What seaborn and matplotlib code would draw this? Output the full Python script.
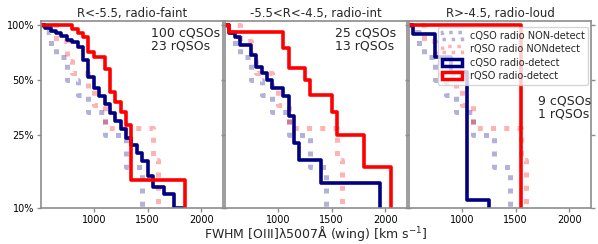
import numpy as np
import matplotlib
matplotlib.use("Agg")
import matplotlib.pyplot as plt
from matplotlib.patches import Patch
from matplotlib.ticker import NullLocator
import seaborn as sns

# FWHM (km/s) bin edges where each reverse-cumulative curve steps down,
# and how many objects leave the sample at that edge
bin_start = 500

# radio non-detections (same comparison sample in every panel)
cq_nondet_fwhm = [550, 600, 650, 750, 850, 950, 1100, 1300, 1450]
cq_nondet_n = [1, 2, 1, 2, 1, 1, 1, 1, 2]
rq_nondet_fwhm = [650, 750, 800, 950, 1000, 1100, 1550, 1600]
rq_nondet_n = [2, 2, 1, 1, 1, 1, 1, 2]

# R<-5.5, radio-faint
faint_cq_fwhm = [550, 600, 650, 700, 750, 800, 850, 900, 950, 1000, 1050, 1100,
                 1150, 1200, 1250, 1300, 1350, 1400, 1450, 1500, 1550, 1650, 1750, 1850]
faint_cq_n = [4, 3, 3, 3, 4, 2, 5, 12, 12, 7, 4, 4, 4, 3, 3, 3, 2, 2, 2, 3, 2, 1, 2, 10]
faint_rq_fwhm = [800, 850, 900, 950, 1000, 1100, 1150, 1200, 1250, 1300, 1350, 1850]
faint_rq_n = [1, 1, 1, 3, 1, 2, 3, 1, 1, 1, 3, 3]

# -5.5<R<-4.5, radio-int
int_cq_fwhm = [550, 600, 650, 750, 800, 850, 900, 950, 1050, 1100, 1150, 1200, 1400, 1950]
int_cq_n = [2, 1, 2, 2, 2, 1, 1, 1, 1, 2, 2, 1, 1, 3]
int_rq_fwhm = [550, 1050, 1100, 1250, 1300, 1500, 1550, 1800, 2050]
int_rq_n = [1, 2, 2, 1, 1, 1, 1, 1, 2]

# R>-4.5, radio-loud
loud_cq_fwhm = [550, 750, 900, 1050, 1250]
loud_cq_n = [1, 2, 1, 4, 1]
loud_rq_fwhm = [1550]
loud_rq_n = [1]

titles = ["R<-5.5, radio-faint", "-5.5<R<-4.5, radio-int", "R>-4.5, radio-loud"]
counts_text = ["100 cQSOs\n23 rQSOs", "25 cQSOs\n13 rQSOs", "9 cQSOs\n1 rQSOs"]
detect_cq = [(faint_cq_fwhm, faint_cq_n), (int_cq_fwhm, int_cq_n), (loud_cq_fwhm, loud_cq_n)]
detect_rq = [(faint_rq_fwhm, faint_rq_n), (int_rq_fwhm, int_rq_n), (loud_rq_fwhm, loud_rq_n)]

yticks = [0.1, 0.25, 0.5, 1.0]
ytick_labels = ["10%", "25%", "50%", "100%"]
xticks = [1000, 1500, 2000]

BLUE = "navy"
RED = "red"

sns.set_theme(style="ticks", rc={
    "axes.edgecolor": "0.55",
    "axes.linewidth": 1.2,
    "xtick.color": "0.55",
    "ytick.color": "0.55",
    "xtick.labelcolor": "black",
    "ytick.labelcolor": "black",
})
plt.rcParams["font.family"] = ["DejaVu Sans"]


def step(ax, fwhm, n, color, ls="-", lw=2.6, alpha=1.0):
    x = np.array([bin_start] + list(fwhm), dtype=float)
    w = np.array([0] + list(n), dtype=float)
    sns.ecdfplot(x=x, weights=w, complementary=True, ax=ax,
                 color=color, ls=ls, lw=lw, alpha=alpha)


fig, axes = plt.subplots(1, 3, figsize=(5.98, 2.44), dpi=100, sharey=True)
fig.subplots_adjust(left=0.0686, right=0.9883, top=0.912, bottom=0.1475, wspace=0.012)

for i, ax in enumerate(axes):
    step(ax, cq_nondet_fwhm, cq_nondet_n, BLUE, ls=":", lw=3.6, alpha=0.3)
    step(ax, rq_nondet_fwhm, rq_nondet_n, RED, ls=":", lw=3.6, alpha=0.3)
    step(ax, *detect_cq[i], BLUE)
    step(ax, *detect_rq[i], RED)

    ax.set_yscale("log")
    ax.set_xlim(510, 2200)
    ax.set_ylim(0.1, 1.045)
    ax.set_xticks(xticks)
    ax.set_xticklabels([str(t) for t in xticks])
    ax.set_yticks(yticks)
    ax.set_yticklabels(ytick_labels)
    ax.yaxis.set_minor_locator(NullLocator())
    ax.tick_params(axis="x", labelsize=7, length=3, width=1, pad=2)
    ax.tick_params(axis="y", labelsize=7, length=3, width=1, pad=2,
                   left=True, right=True, direction="out")
    ax.set_xlabel("")
    ax.set_ylabel("")
    ax.set_title(titles[i], fontsize=8.5, pad=3)
    for sp in ax.spines.values():
        sp.set_visible(True)

axes[0].text(1530, 0.975, counts_text[0], fontsize=9, va="top", ha="left", linespacing=1.0)
axes[1].text(1530, 0.975, counts_text[1], fontsize=9, va="top", ha="left", linespacing=1.0)
axes[2].text(1710, 0.415, counts_text[2], fontsize=9, va="top", ha="left", linespacing=1.0)

axes[1].set_xlabel(r"FWHM [OIII]λ5007Å (wing) [km s$^{-1}$]", fontsize=9, labelpad=-1)

handles = [
    Patch(facecolor="none", edgecolor=BLUE, ls=":", lw=2.5, alpha=0.3, label="cQSO radio NON-detect"),
    Patch(facecolor="none", edgecolor=RED, ls=":", lw=2.5, alpha=0.3, label="rQSO radio NONdetect"),
    Patch(facecolor="none", edgecolor=BLUE, lw=2.5, label="cQSO radio-detect"),
    Patch(facecolor="none", edgecolor=RED, lw=2.5, label="rQSO radio-detect"),
]
axes[2].legend(handles=handles, loc="upper right", fontsize=7, labelspacing=0.35,
               borderaxespad=0.0, framealpha=0.8, bbox_to_anchor=(0.985, 0.97))

fig.savefig("out.png", dpi=100)
